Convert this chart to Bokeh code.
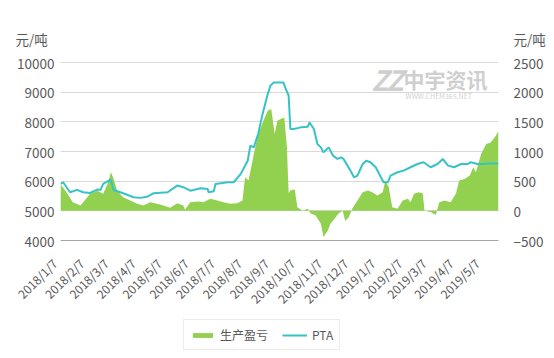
import math
import pandas as pd
from bokeh.plotting import figure
from bokeh.layouts import column
from bokeh.models import (Range1d, LinearAxis, FixedTicker, Legend, LegendItem, Label, ColumnDataSource)
from bokeh.embed import file_html
from bokeh.resources import INLINE

# PTA price (yuan/ton, left axis)
pta_dates = ["2018-01-04", "2018-01-07", "2018-01-15", "2018-01-23", "2018-01-30", "2018-02-07",
             "2018-02-15", "2018-02-19", "2018-02-22", "2018-03-02", "2018-03-03", "2018-03-06",
             "2018-03-17", "2018-03-29", "2018-04-06", "2018-04-14", "2018-04-21", "2018-05-07",
             "2018-05-18", "2018-05-25", "2018-06-02", "2018-06-14", "2018-06-22", "2018-06-23",
             "2018-06-29", "2018-07-01", "2018-07-15", "2018-07-22", "2018-07-30", "2018-08-07",
             "2018-08-10", "2018-08-14", "2018-08-19", "2018-08-24", "2018-08-30", "2018-09-02",
             "2018-09-06", "2018-09-17", "2018-09-19", "2018-09-23", "2018-09-25", "2018-09-29",
             "2018-10-07", "2018-10-15", "2018-10-17", "2018-10-22", "2018-10-26", "2018-10-30",
             "2018-11-02", "2018-11-08", "2018-11-13", "2018-11-18", "2018-11-22", "2018-11-25",
             "2018-12-03", "2018-12-07", "2018-12-11", "2018-12-17", "2018-12-21", "2018-12-26",
             "2019-01-01", "2019-01-07", "2019-01-10", "2019-01-15", "2019-01-18", "2019-01-26",
             "2019-02-02", "2019-02-10", "2019-02-18", "2019-02-25", "2019-03-05", "2019-03-13",
             "2019-03-19", "2019-03-25", "2019-04-01", "2019-04-09", "2019-04-17", "2019-04-20",
             "2019-04-28", "2019-05-05", "2019-05-13", "2019-05-22"]
pta_values = [5908, 5964, 5628, 5706, 5628, 5605,
              5717, 5706, 5908, 6040, 6020, 5700,
              5594, 5460, 5437, 5482, 5594, 5628,
              5852, 5796, 5680, 5762, 5740, 5628,
              5660, 5908, 5964, 5964, 6245, 6690,
              7200, 7140, 7590, 8260, 8935, 9215,
              9330, 9330, 9160, 8880, 7760, 7760,
              7814, 7836, 7980, 7760, 7253, 7140,
              6970, 7140, 6860, 6750, 6800, 6750,
              6356, 6130, 6190, 6580, 6690, 6640,
              6470, 6130, 5964, 5964, 6190, 6300,
              6356, 6470, 6580, 6640, 6470, 6580,
              6750, 6525, 6470, 6580, 6580, 6640,
              6580, 6580, 6600, 6600]

# Production profit (yuan/ton, right axis)
profit_dates = ["2018-01-04", "2018-01-12", "2018-01-18", "2018-01-27", "2018-01-30", "2018-02-07",
                "2018-02-15", "2018-02-22", "2018-02-27", "2018-03-03", "2018-03-06", "2018-03-10",
                "2018-03-17", "2018-03-25", "2018-04-02", "2018-04-09", "2018-04-17", "2018-04-25",
                "2018-05-02", "2018-05-10", "2018-05-18", "2018-05-25", "2018-05-27", "2018-06-02",
                "2018-06-11", "2018-06-17", "2018-06-25", "2018-07-03", "2018-07-10", "2018-07-18",
                "2018-07-26", "2018-08-01", "2018-08-04", "2018-08-08", "2018-08-14", "2018-08-19",
                "2018-08-25", "2018-08-30", "2018-09-03", "2018-09-07", "2018-09-10", "2018-09-14",
                "2018-09-18", "2018-09-21", "2018-09-23", "2018-09-25", "2018-09-30", "2018-10-03",
                "2018-10-09", "2018-10-15", "2018-10-18", "2018-10-24", "2018-10-30", "2018-11-02",
                "2018-11-07", "2018-11-10", "2018-11-16", "2018-11-19", "2018-11-24", "2018-11-27",
                "2018-12-01", "2018-12-05", "2018-12-11", "2018-12-17", "2018-12-23", "2018-12-28",
                "2019-01-03", "2019-01-09", "2019-01-12", "2019-01-16", "2019-01-20", "2019-01-26",
                "2019-02-01", "2019-02-07", "2019-02-10", "2019-02-14", "2019-02-19", "2019-02-24",
                "2019-02-26", "2019-03-05", "2019-03-11", "2019-03-15", "2019-03-21", "2019-03-28",
                "2019-04-03", "2019-04-07", "2019-04-13", "2019-04-19", "2019-04-23", "2019-04-26",
                "2019-05-02", "2019-05-08", "2019-05-13", "2019-05-19", "2019-05-22"]
profit_values = [454, 286, 146, 90, 146, 286,
                 340, 286, 454, 650, 538, 340,
                 230, 174, 118, 90, 146, 118,
                 90, 50, 129, 90, 17, 146,
                 157, 146, 202, 174, 146, 118,
                 129, 174, 566, 510, 958, 1295,
                 1519, 1687, 1715, 1295, 1519, 1547,
                 1575, 1070, 300, 342, 360, 62,
                 0, 34, -40, -80, -218, -442,
                 -330, -218, -106, -50, 0, -170,
                 -106, 34, 174, 314, 342, 314,
                 258, 314, 510, 398, 62, 34,
                 174, 202, 146, 286, 314, 298,
                 0, -20, -70, 146, 174, 146,
                 286, 510, 538, 594, 734, 650,
                 958, 1126, 1154, 1266, 1350]

tick_dates = ["2018-01-07", "2018-02-07", "2018-03-07", "2018-04-07", "2018-05-07", "2018-06-07",
              "2018-07-07", "2018-08-07", "2018-09-07", "2018-10-07", "2018-11-07", "2018-12-07",
              "2019-01-07", "2019-02-07", "2019-03-07", "2019-04-07", "2019-05-07"]
tick_labels = ["2018/1/7", "2018/2/7", "2018/3/7", "2018/4/7", "2018/5/7", "2018/6/7",
               "2018/7/7", "2018/8/7", "2018/9/7", "2018/10/7", "2018/11/7", "2018/12/7",
               "2019/1/7", "2019/2/7", "2019/3/7", "2019/4/7", "2019/5/7"]

left_ticks = [4000, 5000, 6000, 7000, 8000, 9000, 10000]
right_ticks = [-500, 0, 500, 1000, 1500, 2000, 2500]
unit_label = "元/吨"
left_unit_pos = 10810
right_unit_pos = 2905

FONT = "Noto Sans CJK SC"
GREEN = "#92d050"
TEAL = "#36c3c6"
TXT = "#595959"

def ms(s):
    return pd.Timestamp(s).value / 1e6

pta_x = [ms(d) for d in pta_dates]
pr_x = [ms(d) for d in profit_dates]
ticks_ms = [ms(d) for d in tick_dates]

p = figure(width=554, height=318, output_backend="svg", toolbar_location=None,
           x_range=Range1d(pta_x[0], pta_x[-1]), y_range=Range1d(4000, left_unit_pos),
           min_border_left=60, min_border_right=56, min_border_top=38, min_border_bottom=78)
p.extra_y_ranges = {"right": Range1d(-500, right_unit_pos)}
p.outline_line_color = None
p.background_fill_color = "white"

src_pr = ColumnDataSource(dict(x=pr_x, y=profit_values))
area = p.varea(x="x", y1=0, y2="y", source=src_pr, fill_color=GREEN, y_range_name="right")
src_pta = ColumnDataSource(dict(x=pta_x, y=pta_values))
line = p.line(x="x", y="y", source=src_pta, line_color=TEAL, line_width=2)

# axes
p.xaxis.ticker = FixedTicker(ticks=ticks_ms)
p.xaxis.major_label_overrides = {t: l + "\u2003" for t, l in zip(ticks_ms, tick_labels)}
p.xaxis.major_label_orientation = math.pi / 4
p.xaxis.major_tick_line_color = None
p.xaxis.minor_tick_line_color = None
p.xaxis.axis_line_color = "#a6a6a6"
p.xaxis.major_label_text_font = FONT
p.xaxis.major_label_text_font_size = "12px"
p.xaxis.major_label_text_color = TXT
p.xaxis.major_label_standoff = 6
p.xgrid.grid_line_color = None

p.yaxis.ticker = FixedTicker(ticks=left_ticks + [left_unit_pos])
p.yaxis.major_label_overrides = {left_unit_pos: unit_label + "\u2002"}
p.yaxis.axis_line_color = None
p.yaxis.major_tick_line_color = None
p.yaxis.minor_tick_line_color = None
p.yaxis.major_label_text_font = FONT
p.yaxis.major_label_text_font_size = "13.5px"
p.yaxis.major_label_text_color = TXT
p.yaxis.major_label_standoff = 0
p.ygrid.ticker = FixedTicker(ticks=left_ticks[1:])
p.ygrid.grid_line_color = "#d9d9d9"

ra = LinearAxis(y_range_name="right", ticker=FixedTicker(ticks=right_ticks + [right_unit_pos]))
ra.major_label_overrides = {right_unit_pos: unit_label}
ra.axis_line_color = None
ra.major_tick_line_color = None
ra.minor_tick_line_color = None
ra.major_label_text_font = FONT
ra.major_label_text_font_size = "13.5px"
ra.major_label_text_color = TXT
ra.major_label_standoff = 9
p.add_layout(ra, "right")

# watermark
for xx in (311, 326):
    p.add_layout(Label(x=xx, y=162, x_units="screen", y_units="screen", text="Z",
                       text_font=FONT, text_font_size="28px", text_font_style="bold italic",
                       text_color="#cfcfcf", text_baseline="middle"))
p.add_layout(Label(x=343, y=162, x_units="screen", y_units="screen", text="中宇资讯",
                   text_font=FONT, text_font_size="21px", text_font_style="bold",
                   text_color="#cfcfcf", text_baseline="middle"))
p.add_layout(Label(x=345, y=145, x_units="screen", y_units="screen", text="WWW.CHEM365.NET",
                   text_font=FONT, text_font_size="7px",
                   text_color="#d2d2d2", text_baseline="middle"))

# legend strip below the chart (its glyphs lie outside its own view; only the legend shows)
lg = figure(width=554, height=40, output_backend="svg", toolbar_location=None,
            x_range=Range1d(0, 1), y_range=Range1d(0, 1),
            x_axis_location=None, y_axis_location=None,
            min_border_left=0, min_border_right=0, min_border_top=0, min_border_bottom=0)
lg.outline_line_color = None
lg.grid.grid_line_color = None
lg_area = lg.varea(x=pr_x, y1=0, y2=profit_values, fill_color=GREEN)
lg_line = lg.line(x=pta_x, y=pta_values, line_color=TEAL, line_width=2)
legend = Legend(items=[LegendItem(label="生产盈亏", renderers=[lg_area]),
                       LegendItem(label="PTA", renderers=[lg_line])],
                orientation="horizontal", location=(123, 8),
                label_text_font=FONT, label_text_font_size="12px", label_text_color=TXT,
                glyph_width=25, glyph_height=6, spacing=14, padding=6, margin=0,
                border_line_color="#d9d9d9", background_fill_alpha=1)
lg.add_layout(legend, "center")

layout = column(p, lg, spacing=0)
open("out.html", "w").write(file_html(layout, INLINE))
